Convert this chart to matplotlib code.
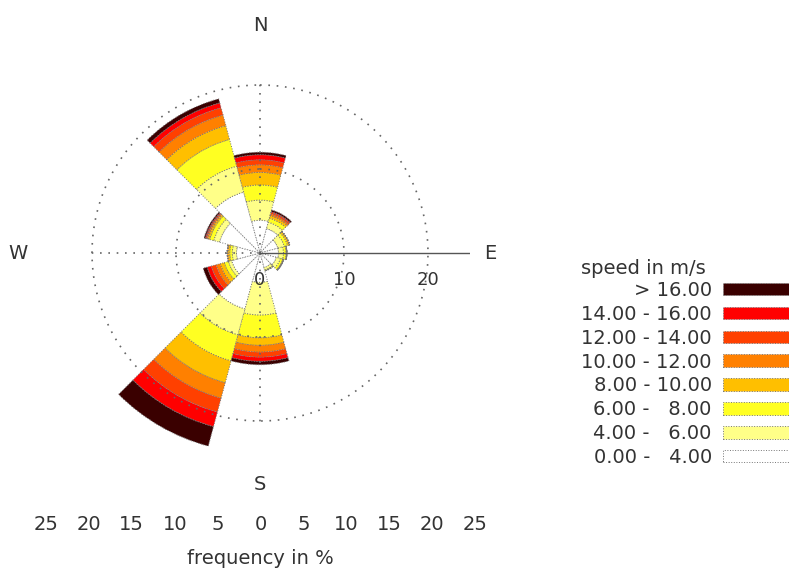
import numpy as np
import matplotlib
matplotlib.use("Agg")
import matplotlib.pyplot as plt
import matplotlib.transforms as mtransforms

plt.rcParams['font.family'] = ['DejaVu Sans']

# wind directions (degrees, clockwise from north)
directions = [0, 30, 60, 90, 120, 150, 180, 210, 240, 270, 300, 330]

# frequency (%) per speed class, one value per direction
f_0_4 = [3.9, 3.0, 2.2, 2.2, 2.0, 1.8, 3.5, 6.9, 3.5, 2.8, 5.0, 7.5]
f_4_6 = [2.4, 0.8, 0.8, 0.6, 0.5, 0.3, 3.9, 3.2, 0.4, 0.5, 0.7, 3.2]
f_6_8 = [1.8, 0.5, 0.4, 0.3, 0.3, 0.1, 2.7, 3.2, 0.5, 0.3, 0.5, 3.3]
f_8_10 = [1.5, 0.3, 0.2, 0.1, 0.1, 0.0, 0.9, 2.7, 0.5, 0.2, 0.2, 1.7]
f_10_12 = [0.9, 0.2, 0.05, 0.0, 0.0, 0.0, 0.8, 1.9, 0.5, 0.1, 0.15, 1.3]
f_12_14 = [0.6, 0.2, 0.0, 0.0, 0.0, 0.0, 0.6, 1.7, 0.6, 0.0, 0.1, 0.9]
f_14_16 = [0.6, 0.1, 0.0, 0.0, 0.0, 0.0, 0.5, 1.8, 0.5, 0.0, 0.1, 0.6]
f_16_up = [0.3, 0.2, 0.0, 0.0, 0.0, 0.0, 0.4, 2.4, 0.5, 0.0, 0.15, 0.5]

classes = [f_0_4, f_4_6, f_6_8, f_8_10, f_10_12, f_12_14, f_14_16, f_16_up]
class_labels = ["0.00 -   4.00", "4.00 -   6.00", "6.00 -   8.00", "8.00 - 10.00",
                "10.00 - 12.00", "12.00 - 14.00", "14.00 - 16.00", "> 16.00"]
colors = ["#ffffff", "#ffff88", "#ffff22", "#ffbf00", "#ff8000", "#ff4000",
          "#ff0000", "#3a0000"]

ring_ticks = [0, 10, 20]
freq_ticks = [-25, -20, -15, -10, -5, 0, 5, 10, 15, 20, 25]
txt = "#333333"
dots = (0, (1, 4))

fig = plt.figure(figsize=(7.89, 5.75), dpi=100)
ax = fig.add_axes([0.06337, 0.19478, 0.53232, 0.73043], projection='polar')
ax.set_theta_zero_location('N')
ax.set_theta_direction(-1)
ax.set_ylim(0, 25)
ax.set_axis_off()

theta = np.deg2rad(directions)
width = np.deg2rad(30)
bottom = np.zeros(len(directions))
for vals, col, lab in zip(classes, colors, class_labels):
    ax.bar(theta, vals, width=width, bottom=bottom, color=col, label=lab,
           edgecolor="#777777", linewidth=0.7, linestyle=':', zorder=2)
    bottom += np.array(vals)

# dotted rings and cross lines
t = np.linspace(0, 2 * np.pi, 361)
for r in [10, 20]:
    ax.plot(t, np.full_like(t, r), linestyle=dots, color="#666666", lw=1.2, zorder=3)
for a in [0, 180, 270]:
    ax.plot([np.deg2rad(a)] * 2, [0, 20.5], linestyle=dots, color="#666666", lw=1.2, zorder=3)
ax.plot([np.pi / 2] * 2, [0, 25], color="#555555", lw=1.0, zorder=3)

off = mtransforms.ScaledTranslation(0, -0.27, fig.dpi_scale_trans)
for r in ring_ticks:
    ax.text(np.pi / 2, r, str(r), ha='center', va='center', fontsize=13,
            color=txt, transform=ax.transData + off)

for a, lab, r in [(0, 'N', 27.1), (90, 'E', 27.4), (180, 'S', 27.6), (270, 'W', 28.8)]:
    ax.text(np.deg2rad(a), r, lab, ha='center', va='center', fontsize=14,
            color=txt, clip_on=False)

# frequency scale below the rose
bx = fig.add_axes([0.0583, 0.104, 0.5437, 0.0001])
bx.set_xlim(-25, 25)
bx.set_xticks(freq_ticks)
bx.set_xticklabels([str(abs(v)) for v in freq_ticks], fontsize=14, color=txt)
bx.tick_params(length=0, pad=0)
bx.set_yticks([])
for s in bx.spines.values():
    s.set_visible(False)
bx.set_xlabel("frequency in %", fontsize=14, color=txt, labelpad=11)

# legend
h, l = ax.get_legend_handles_labels()
fig.legend(h[::-1], l[::-1], loc='upper right', bbox_to_anchor=(1.0, 1 - 281 / 575),
           frameon=False, markerfirst=False, fontsize=14, handlelength=3.4,
           handleheight=0.62, handletextpad=0.57, labelspacing=0.25,
           borderpad=0, borderaxespad=0, labelcolor=txt)
fig.text(581 / 789, 1 - 268 / 575, "speed in m/s", fontsize=14, color=txt, va='center')

fig.savefig("out.png", dpi=100)
